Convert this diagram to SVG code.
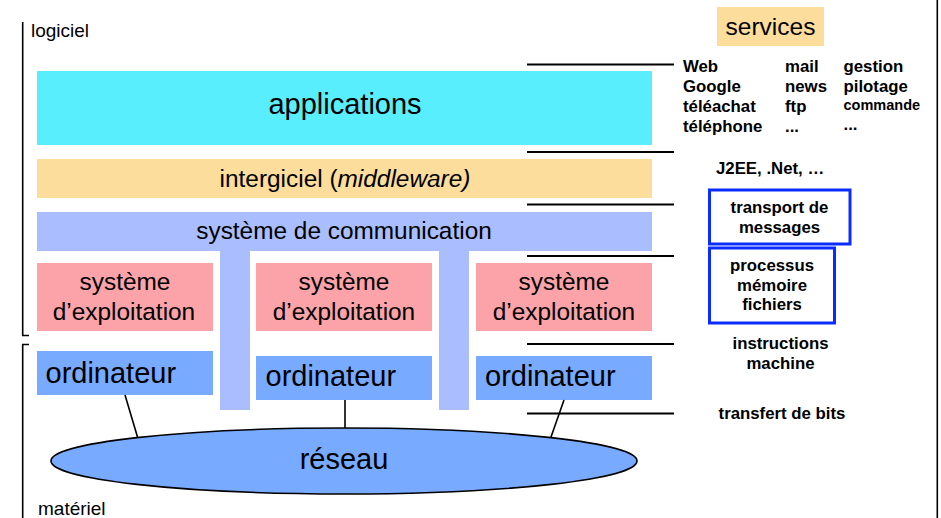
<svg xmlns="http://www.w3.org/2000/svg" width="941" height="518" viewBox="0 0 941 518">
<style>
text{font-family:"Liberation Sans",Arial,sans-serif;fill:#000}
.big{font-size:24.4px}
.ord{font-size:29px}
.lbl{font-size:19px}
.b{font-size:16.8px;font-weight:bold}
.bs{font-size:14.5px;font-weight:bold}
.lvl{stroke:#000;stroke-width:2.2;fill:none}
.conn{stroke:#000;stroke-width:1.6;fill:none}
.os{fill:#FCA3A9}
.pc{fill:#78AAFF}
.com{fill:#A9BDFF}
.bluebox{fill:#fff;stroke:#0A2CFF;stroke-width:3}
</style>
<rect width="941" height="518" fill="#fff"/>
<g id="brackets" fill="none" stroke="#000" stroke-width="1.6">
<polyline points="29,335.5 22.7,335.5 22.7,22"/>
<polyline points="29,344.5 22.7,344.5 22.7,518"/>
<line x1="937.3" y1="0" x2="937.3" y2="518"/>
</g>
<text class="lbl" x="31" y="37">logiciel</text>
<text class="lbl" x="38" y="514.5">matériel</text>
<g id="applications"><rect x="37" y="71" width="615" height="74" fill="#58EEFE"/><text x="345" y="114" text-anchor="middle" style="font-size:29px">applications</text></g>
<g id="intergiciel"><rect x="37" y="159" width="615" height="39" fill="#FDDD9B"/><text class="big" x="345" y="187" text-anchor="middle">intergiciel (<tspan font-style="italic">middleware)</tspan></text></g>
<g id="communication"><path class="com" d="M37 212H652V251H469V410H439V251H250V410H220V251H37Z"/><text class="big" x="344" y="239" text-anchor="middle">système de communication</text></g>
<g id="os1"><rect class="os" x="37" y="263" width="176" height="68"/><text class="big" x="125" y="290" text-anchor="middle">système</text><text class="big" x="124" y="319.5" text-anchor="middle">d’exploitation</text></g>
<g id="os2"><rect class="os" x="256" y="263" width="176" height="68"/><text class="big" x="344" y="290" text-anchor="middle">système</text><text class="big" x="344" y="319.5" text-anchor="middle">d’exploitation</text></g>
<g id="os3"><rect class="os" x="476" y="263" width="176" height="68"/><text class="big" x="564" y="290" text-anchor="middle">système</text><text class="big" x="564" y="319.5" text-anchor="middle">d’exploitation</text></g>
<g id="ord1"><rect class="pc" x="37" y="351" width="176" height="44"/><text class="ord" x="45.5" y="383">ordinateur</text></g>
<g id="ord2"><rect class="pc" x="256" y="356" width="176" height="44"/><text class="ord" x="265.5" y="385.5">ordinateur</text></g>
<g id="ord3"><rect class="pc" x="476" y="356" width="176" height="44"/><text class="ord" x="485" y="385.5">ordinateur</text></g>
<g id="connectors">
<line class="conn" x1="125" y1="395" x2="137.5" y2="437"/>
<line class="conn" x1="345" y1="400" x2="345" y2="429"/>
<line class="conn" x1="564" y1="400" x2="551" y2="437"/>
</g>
<g id="reseau"><ellipse cx="344" cy="461" rx="293" ry="33" fill="#78AAFF" stroke="#000" stroke-width="1.6"/><text class="ord" x="344" y="469" text-anchor="middle">réseau</text></g>
<g id="levels">
<line class="lvl" x1="527" y1="64.5" x2="674" y2="64.5"/>
<line class="lvl" x1="527" y1="152" x2="674" y2="152"/>
<line class="lvl" x1="527" y1="204.5" x2="674" y2="204.5"/>
<line class="lvl" x1="527" y1="256" x2="674" y2="256"/>
<line class="lvl" x1="527" y1="344" x2="674" y2="344"/>
<line class="lvl" x1="527" y1="413.5" x2="674" y2="413.5"/>
</g>
<g id="services"><rect x="717" y="7" width="107" height="39" fill="#FDDD9B"/><text x="770.5" y="34.5" text-anchor="middle" style="font-size:24.5px">services</text></g>
<g id="service-list">
<text class="b" x="683" y="72">Web</text>
<text class="b" x="683" y="92">Google</text>
<text class="b" x="683" y="112">téléachat</text>
<text class="b" x="683" y="132">téléphone</text>
<text class="b" x="785" y="72">mail</text>
<text class="b" x="785" y="92">news</text>
<text class="b" x="785" y="112">ftp</text>
<text class="b" x="785" y="132">...</text>
<text class="b" x="843.5" y="72">gestion</text>
<text class="b" x="843.5" y="92">pilotage</text>
<text class="bs" x="843.5" y="110">commande</text>
<text class="b" x="843.5" y="130">...</text>
</g>
<text class="b" x="716" y="174">J2EE, .Net, …</text>
<g id="transport"><rect class="bluebox" x="709.5" y="190" width="140.5" height="54"/><text class="b" x="779.5" y="212.5" text-anchor="middle">transport de</text><text class="b" x="779.5" y="232.5" text-anchor="middle">messages</text></g>
<g id="processus"><rect class="bluebox" x="709.5" y="248" width="125" height="75"/><text class="b" x="772" y="271" text-anchor="middle">processus</text><text class="b" x="772" y="290.5" text-anchor="middle">mémoire</text><text class="b" x="772" y="310" text-anchor="middle">fichiers</text></g>
<text class="b" x="780.5" y="349" text-anchor="middle">instructions</text>
<text class="b" x="780.5" y="368.5" text-anchor="middle">machine</text>
<text class="b" x="782" y="418.5" text-anchor="middle">transfert de bits</text>
</svg>
